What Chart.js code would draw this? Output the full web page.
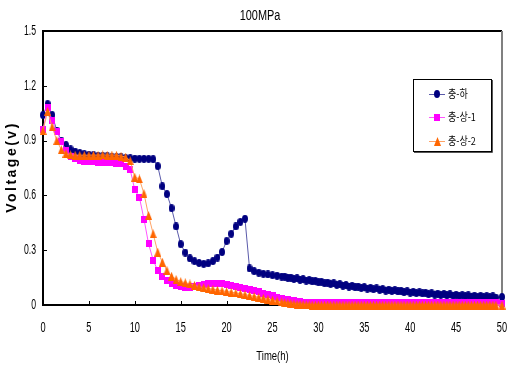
<!DOCTYPE html>
<html>
<head>
<meta charset="utf-8">
<script src="https://cdn.jsdelivr.net/npm/chart.js@4"></script>
<style>
  html, body { margin: 0; padding: 0; background: #fff; }
  canvas { display: block; }
</style>
</head>
<body>
<canvas id="voltageChart" width="507" height="367"></canvas>
<script>
const chartTitle = "100MPa";
const xTitle = "Time(h)";
const yTitle = "Voltage(v)";
const seriesNames = ["충-하", "충-상-1", "충-상-2"];

// hours; 0.5h steps first, 20 min steps later
const times = [
  0, 0.5, 1, 1.5, 2, 2.5, 3, 3.5, 4, 4.5, 5, 5.5, 6, 6.5, 7, 7.5, 8, 8.5, 9, 9.5,
  10, 10.5, 11, 11.5, 12, 12.5, 13, 13.5, 14, 14.5, 15, 15.5, 16, 16.5, 17, 17.5, 18, 18.5, 19, 19.5,
  20, 20.5, 21, 21.5, 22, 22.5, 23, 23.5, 24, 24.5, 25, 25.5, 26,
  26.33, 26.67, 27, 27.33, 27.67, 28, 28.33, 28.67, 29, 29.33, 29.67, 30,
  30.33, 30.67, 31, 31.33, 31.67, 32, 32.33, 32.67, 33, 33.33, 33.67, 34,
  34.33, 34.67, 35, 35.33, 35.67, 36, 36.33, 36.67, 37, 37.33, 37.67, 38,
  38.33, 38.67, 39, 39.33, 39.67, 40, 40.33, 40.67, 41, 41.33, 41.67, 42,
  42.33, 42.67, 43, 43.33, 43.67, 44, 44.33, 44.67, 45, 45.33, 45.67, 46,
  46.33, 46.67, 47, 47.33, 47.67, 48, 48.33, 48.67, 49, 49.33,
  50
];

const chungHa = [
  1.04, 1.10, 1.04, 0.955, 0.90, 0.875, 0.852, 0.84, 0.832, 0.826, 0.822, 0.82, 0.817, 0.815, 0.813, 0.811, 0.81, 0.808, 0.805, 0.803,
  0.802, 0.80, 0.80, 0.80, 0.798, 0.76, 0.65, 0.607, 0.53, 0.43, 0.333, 0.287, 0.255, 0.24, 0.23, 0.225, 0.228, 0.24, 0.26, 0.29,
  0.35, 0.39, 0.43, 0.455, 0.472, 0.20, 0.185, 0.177, 0.171, 0.167, 0.163, 0.16, 0.156,
  0.155, 0.149, 0.150, 0.143, 0.146, 0.138, 0.141, 0.134, 0.136, 0.129, 0.132, 0.124,
  0.127, 0.119, 0.123, 0.115, 0.119, 0.110, 0.114, 0.106, 0.109, 0.101, 0.105, 0.097,
  0.101, 0.094, 0.098, 0.090, 0.094, 0.086, 0.091, 0.083, 0.087, 0.079, 0.084, 0.077,
  0.081, 0.074, 0.078, 0.070, 0.075, 0.068, 0.072, 0.065, 0.069, 0.063, 0.067, 0.059,
  0.064, 0.057, 0.062, 0.055, 0.060, 0.053, 0.058, 0.051, 0.056, 0.050, 0.054, 0.048,
  0.053, 0.046, 0.051, 0.045, 0.050, 0.043, 0.048, 0.042, 0.047, 0.041,
  0.044
];

const chungSang1 = [
  0.96, 1.08, 1.01, 0.95, 0.895, 0.845, 0.815, 0.80, 0.792, 0.788, 0.785, 0.783, 0.781, 0.78, 0.779, 0.778, 0.776, 0.772, 0.76, 0.74,
  0.63, 0.59, 0.47, 0.335, 0.246, 0.188, 0.155, 0.133, 0.118, 0.108, 0.10, 0.097, 0.097, 0.10, 0.105, 0.112, 0.118, 0.12, 0.12, 0.116,
  0.111, 0.106, 0.10, 0.095, 0.09, 0.085, 0.079, 0.072, 0.065, 0.058, 0.05, 0.043, 0.036,
  0.032, 0.028, 0.025, 0.022, 0.019, 0.017, 0.015, 0.014, 0.013, 0.012, 0.012, 0.012,
  0.012, 0.011, 0.012, 0.012, 0.011, 0.012, 0.012, 0.011, 0.012, 0.012, 0.011, 0.012,
  0.012, 0.011, 0.012, 0.012, 0.011, 0.012, 0.012, 0.011, 0.012, 0.012, 0.011, 0.012,
  0.012, 0.011, 0.012, 0.012, 0.011, 0.012, 0.012, 0.011, 0.012, 0.012, 0.011, 0.012,
  0.012, 0.011, 0.012, 0.012, 0.011, 0.012, 0.012, 0.011, 0.012, 0.012, 0.011, 0.012,
  0.012, 0.011, 0.012, 0.012, 0.011, 0.012, 0.012, 0.011, 0.012, 0.011,
  0.010
];

const chungSang2 = [
  0.955, 1.06, 0.975, 0.90, 0.85, 0.83, 0.822, 0.82, 0.82, 0.82, 0.82, 0.821, 0.82, 0.822, 0.82, 0.821, 0.82, 0.815, 0.81, 0.79,
  0.70, 0.69, 0.61, 0.49, 0.39, 0.29, 0.235, 0.19, 0.158, 0.14, 0.128, 0.122, 0.115, 0.108, 0.10, 0.095, 0.09, 0.086, 0.082, 0.078,
  0.074, 0.07, 0.066, 0.062, 0.057, 0.052, 0.047, 0.042, 0.037, 0.032, 0.027, 0.022, 0.017,
  0.013, 0.011, 0.008, 0.006, 0.005, 0.004, 0.003, 0.002, 0.001, 0, 0, 0,
  0, 0, 0, 0, 0, 0, 0, 0, 0, 0, 0, 0,
  0, 0, 0, 0, 0, 0, 0, 0, 0, 0, 0, 0,
  0, 0, 0, 0, 0, 0, 0, 0, 0, 0, 0, 0,
  0, 0, 0, 0, 0, 0, 0, 0, 0, 0, 0, 0,
  0, 0, 0, 0, 0, 0, 0, 0, 0, 0,
  0
];

const xMin = 0, xMax = 50, xStep = 5;
const yMin = 0, yMax = 1.5, yStep = 0.3;

const sans = "'Liberation Sans', Arial, sans-serif";
const korean = "'Noto Sans CJK KR', 'Noto Sans', sans-serif";

const toPoints = (vals) => times.map((t, i) => ({ x: t, y: vals[i] }));

// the source picture is squeezed sideways, so markers are a bit taller than wide
function makeMarker(shape, w, h, color) {
  const c = document.createElement("canvas");
  c.width = w;
  c.height = h;
  const g = c.getContext("2d");
  g.fillStyle = color;
  g.beginPath();
  if (shape === "circle") {
    g.ellipse(w / 2, h / 2, w / 2, h / 2, 0, 0, Math.PI * 2);
  } else if (shape === "rect") {
    g.rect(0, 0, w, h);
  } else {
    g.moveTo(w / 2, 0);
    g.lineTo(w, h);
    g.lineTo(0, h);
    g.closePath();
  }
  g.fill();
  return c;
}

const navyDot = makeMarker("circle", 6, 8, "#000080");
const pinkBox = makeMarker("rect", 6, 7, "#ff00ff");
const orangeTri = makeMarker("triangle", 7, 9, "#ff6600");

// condensed text: draw wider font squeezed horizontally
function squeezedText(ctx, text, x, y, font, sx, align) {
  ctx.save();
  ctx.translate(x, y);
  ctx.scale(sx, 1);
  ctx.font = font;
  ctx.textAlign = align;
  ctx.textBaseline = "middle";
  ctx.fillText(text, 0, 0);
  ctx.restore();
}

// plot frame + inward tick marks, under the data
const framePlugin = {
  id: "frame",
  beforeDatasetsDraw(chart) {
    const { ctx, chartArea: a, scales } = chart;
    ctx.save();
    ctx.lineWidth = 2;
    ctx.strokeStyle = "#000";
    ctx.beginPath();
    ctx.moveTo(a.left, a.bottom);
    ctx.lineTo(a.left, a.top);
    ctx.lineTo(a.right, a.top);
    ctx.stroke();
    ctx.beginPath();
    ctx.moveTo(a.left - 1, a.bottom);
    ctx.lineTo(a.right, a.bottom);
    ctx.stroke();
    ctx.strokeStyle = "#808080";
    ctx.beginPath();
    ctx.moveTo(a.right, a.top);
    ctx.lineTo(a.right, a.bottom);
    ctx.stroke();

    ctx.lineWidth = 1;
    ctx.strokeStyle = "#000";
    scales.x.ticks.forEach((t) => {
      if (t.value <= xMin || t.value >= xMax) return;
      const px = Math.round(scales.x.getPixelForValue(t.value)) + 0.5;
      ctx.beginPath();
      ctx.moveTo(px, a.bottom);
      ctx.lineTo(px, a.bottom - 4);
      ctx.stroke();
    });
    scales.y.ticks.forEach((t) => {
      if (t.value <= yMin || t.value >= yMax) return;
      const py = Math.round(scales.y.getPixelForValue(t.value)) + 0.5;
      ctx.beginPath();
      ctx.moveTo(a.left, py);
      ctx.lineTo(a.left + 4, py);
      ctx.stroke();
    });
    ctx.restore();
  }
};

// tick labels, titles and the boxed legend
const decorPlugin = {
  id: "decor",
  afterDraw(chart) {
    const { ctx, chartArea: a, scales } = chart;
    ctx.save();
    ctx.fillStyle = "#000";

    scales.x.ticks.forEach((t) => {
      squeezedText(ctx, t.label, scales.x.getPixelForValue(t.value), 328, "14px " + sans, 0.66, "center");
    });
    scales.y.ticks.forEach((t) => {
      squeezedText(ctx, t.label, 36, scales.y.getPixelForValue(t.value), "14px " + sans, 0.62, "right");
    });

    squeezedText(ctx, chartTitle, 260, 16, "14px " + sans, 0.78, "center");
    squeezedText(ctx, xTitle, (a.left + a.right) / 2, 356, "13px " + sans, 0.73, "center");

    ctx.save();
    ctx.translate(12, 167);
    ctx.rotate(-Math.PI / 2);
    ctx.font = "bold 14px " + sans;
    ctx.letterSpacing = "2.5px";
    ctx.textAlign = "center";
    ctx.textBaseline = "middle";
    ctx.fillText(yTitle, 0, 0);
    ctx.restore();

    // legend box
    ctx.lineWidth = 1;
    ctx.strokeStyle = "#000";
    ctx.strokeRect(413.5, 79.5, 78, 72);
    ctx.strokeStyle = "#555";
    ctx.beginPath();
    ctx.moveTo(492.5, 80);
    ctx.lineTo(492.5, 152.5);
    ctx.lineTo(414, 152.5);
    ctx.stroke();

    const rows = [94, 117, 141];
    chart.data.datasets.forEach((ds, i) => {
      const y = rows[i];
      ctx.strokeStyle = ds.borderColor;
      ctx.lineWidth = 1;
      ctx.beginPath();
      ctx.moveTo(429, y + 0.5);
      ctx.lineTo(445, y + 0.5);
      ctx.stroke();
      const m = ds.pointStyle;
      ctx.drawImage(m, Math.round(437 - m.width / 2), Math.round(y - m.height / 2));
      squeezedText(ctx, ds.label, 448, y, "11px " + korean, 0.82, "left");
    });
    ctx.restore();
  }
};

const chart = new Chart(document.getElementById("voltageChart"), {
  type: "line",
  data: {
    datasets: [
      {
        label: seriesNames[0],
        data: toPoints(chungHa),
        borderColor: "#5a5aaa",
        borderWidth: 1,
        pointStyle: navyDot,
        order: 3,
        clip: false
      },
      {
        label: seriesNames[1],
        data: toPoints(chungSang1),
        borderColor: "#ff55ff",
        borderWidth: 1,
        pointStyle: pinkBox,
        order: 2,
        clip: false
      },
      {
        label: seriesNames[2],
        data: toPoints(chungSang2),
        borderColor: "#ffa366",
        borderWidth: 1,
        pointStyle: orangeTri,
        order: 1,
        clip: false
      }
    ]
  },
  options: {
    responsive: false,
    animation: false,
    devicePixelRatio: 1,
    layout: { padding: { top: 31, right: 4, left: 0, bottom: 0 } },
    plugins: {
      legend: { display: false },
      title: { display: false },
      tooltip: { enabled: false }
    },
    scales: {
      x: {
        type: "linear",
        min: xMin,
        max: xMax,
        ticks: { stepSize: xStep, display: false },
        grid: { display: false, drawTicks: false },
        border: { display: false },
        afterFit(s) {
          s.height = 62;
          s.paddingLeft = 0;
          s.paddingRight = 0;
        }
      },
      y: {
        type: "linear",
        min: yMin,
        max: yMax,
        ticks: { stepSize: yStep, display: false },
        grid: { display: false, drawTicks: false },
        border: { display: false },
        afterFit(s) {
          s.width = 43;
          s.paddingTop = 0;
          s.paddingBottom = 0;
        }
      }
    }
  },
  plugins: [framePlugin, decorPlugin]
});
</script>
</body>
</html>
